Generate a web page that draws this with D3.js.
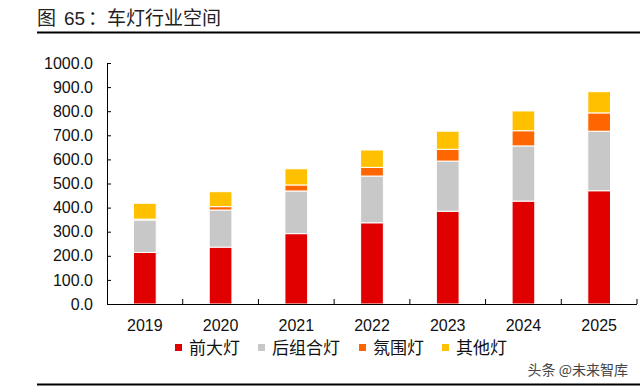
<!DOCTYPE html>
<html>
<head>
<meta charset="utf-8">
<script src="https://cdn.jsdelivr.net/npm/d3@7/dist/d3.min.js"></script>
<style>
  html, body { margin: 0; padding: 0; background: #ffffff; }
  svg { display: block; }
  text { font-family: "Liberation Sans", Arial, "Noto Sans CJK SC", sans-serif; }
</style>
</head>
<body>
<svg id="chart" width="640" height="389"></svg>
<script>
// Stacked bars: headlamp market size by lamp type, 2019-2025.

const years = ["2019", "2020", "2021", "2022", "2023", "2024", "2025"];
const seriesNames = ["前大灯", "后组合灯", "氛围灯", "其他灯"];
const headlamp = [214, 236, 292, 337, 385, 427, 470];
const rearLamp = [134, 154, 177, 194, 208, 229, 247];
const ambient  = [4, 14, 25, 36, 49, 63, 76];
const otherLamp = [66, 62, 67, 72, 75, 82, 88];
const yTicks = [0, 100, 200, 300, 400, 500, 600, 700, 800, 900, 1000];

const colors = ["#e00000", "#c8c8c8", "#ff6600", "#ffc000"];
const cjk = '"Noto Sans CJK SC", sans-serif';

const svg = d3.select("#chart");

const margin = { top: 63, right: 3, bottom: 85, left: 107 };
const width = 640 - margin.left - margin.right;
const height = 389 - margin.top - margin.bottom;

const rows = years.map((yr, i) => ({
  year: yr,
  [seriesNames[0]]: headlamp[i],
  [seriesNames[1]]: rearLamp[i],
  [seriesNames[2]]: ambient[i],
  [seriesNames[3]]: otherLamp[i]
}));

const stacked = d3.stack().keys(seriesNames)(rows);

const x = d3.scaleBand()
  .domain(years)
  .range([0, width])
  .paddingInner(0.7)
  .paddingOuter(0.35);

const y = d3.scaleLinear()
  .domain([0, 1000])
  .range([height, 0]);

const color = d3.scaleOrdinal().domain(seriesNames).range(colors);

// title
const title = svg.append("text")
  .attr("y", 25)
  .attr("font-size", 19)
  .attr("fill", "#222")
  .style("font-family", '"Liberation Sans", Arial, ' + cjk);
title.append("tspan").attr("x", 37).style("font-family", cjk).text("图");
title.append("tspan").attr("x", 64).text("65");
title.append("tspan").attr("x", 88).style("font-family", cjk).text("：");
title.append("tspan").attr("x", 107).style("font-family", cjk).text("车灯行业空间");

svg.append("line")
  .attr("x1", 37).attr("x2", 640)
  .attr("y1", 32.5).attr("y2", 32.5)
  .attr("stroke", "#000").attr("stroke-width", 2);

const g = svg.append("g")
  .attr("transform", `translate(${margin.left},${margin.top})`);

g.selectAll(".layer")
  .data(stacked)
  .join("g")
  .attr("fill", d => color(d.key))
  .selectAll("rect")
  .data(d => d)
  .join("rect")
  .attr("x", d => x(d.data.year))
  .attr("y", d => y(d[1]))
  .attr("width", x.bandwidth())
  .attr("height", d => y(d[0]) - y(d[1]))
  .attr("stroke", "#fff")
  .attr("stroke-width", 1);

// y axis
const yAxis = g.append("g")
  .call(d3.axisLeft(y).tickValues(yTicks).tickSize(-4).tickPadding(14)
    .tickFormat(d3.format(".1f")));
yAxis.select(".domain").attr("stroke", "#000");
yAxis.selectAll(".tick line").attr("stroke", "#000");
yAxis.selectAll("text")
  .attr("font-size", 16)
  .attr("fill", "#111")
  .style("font-family", '"Liberation Sans", Arial, sans-serif');

// x axis with ticks between categories
const xAxis = g.append("g")
  .attr("transform", `translate(0,${height})`);
xAxis.append("line")
  .attr("x1", 0).attr("x2", width)
  .attr("y1", 0.5).attr("y2", 0.5)
  .attr("stroke", "#000");
xAxis.selectAll(".sep")
  .data(years)
  .join("line")
  .attr("x1", (d, i) => (i + 1) * x.step())
  .attr("x2", (d, i) => (i + 1) * x.step())
  .attr("y1", 0).attr("y2", -5)
  .attr("stroke", "#000");
xAxis.selectAll(".lbl")
  .data(years)
  .join("text")
  .attr("x", d => x(d) + x.bandwidth() / 2)
  .attr("y", 27)
  .attr("text-anchor", "middle")
  .attr("font-size", 16)
  .attr("fill", "#111")
  .style("font-family", '"Liberation Sans", Arial, sans-serif')
  .text(d => d);

// legend
const legendX = [175, 258, 359, 442];
const legend = svg.append("g");
seriesNames.forEach((name, i) => {
  legend.append("rect")
    .attr("x", legendX[i])
    .attr("y", 344)
    .attr("width", 7)
    .attr("height", 7)
    .attr("fill", colors[i]);
  legend.append("text")
    .attr("x", legendX[i] + 14)
    .attr("y", 354)
    .attr("font-size", 17)
    .attr("fill", "#111")
    .style("font-family", cjk)
    .text(name);
});

// source watermark
svg.append("text")
  .attr("x", 628)
  .attr("y", 375)
  .attr("text-anchor", "end")
  .attr("font-size", 14)
  .attr("fill", "#444")
  .style("font-family", cjk)
  .text("头条 @未来智库");

svg.append("line")
  .attr("x1", 37).attr("x2", 640)
  .attr("y1", 384.5).attr("y2", 384.5)
  .attr("stroke", "#000").attr("stroke-width", 2);
</script>
</body>
</html>
